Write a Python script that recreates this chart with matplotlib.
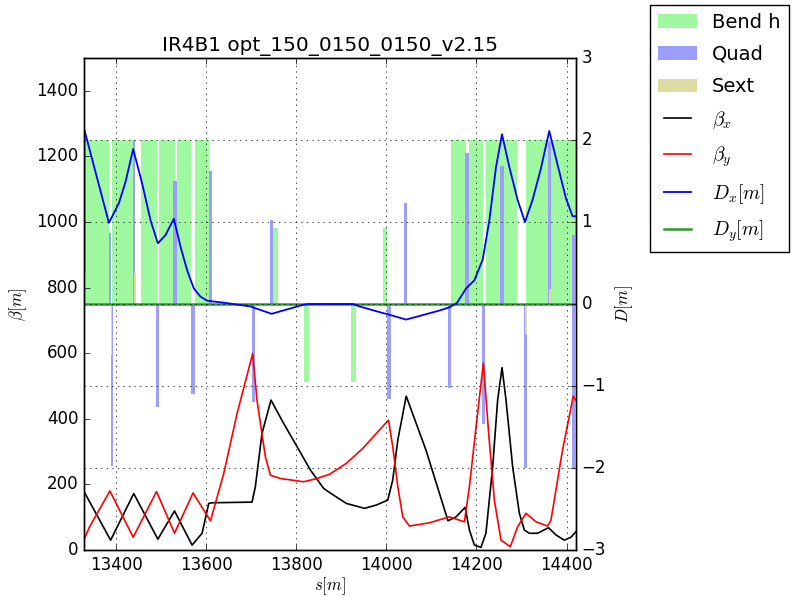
import numpy as np
import matplotlib
matplotlib.use('Agg')
import matplotlib.pyplot as plt

plt.style.use('classic')

# lattice elements: start s, length, bar height (right axis units)
bend_s = [13320, 13390, 13456, 13495, 13534, 13575, 13747, 13817, 13922, 13992,
          14144, 14183, 14221, 14256, 14311, 14361]
bend_l = [64, 48, 34, 35, 33, 31, 12, 12, 11, 10, 33, 31, 35, 35, 50, 60]
bend_h = [2, 2, 2, 2, 2, 2, 0.93, -0.95, -0.95, 0.93, 2, 2, 2, 2, 2, 2]

quad_s = [13326, 13384, 13387.5, 13437, 13489, 13526, 13567, 13605.5, 13702, 13740.5,
          14002, 14039.5, 14137, 14175.5, 14213, 14253, 14305.5, 14359, 14412.5, 14412.5]
quad_l = [7, 3.5, 6, 5, 7, 9, 7.5, 7, 6, 7, 8, 6, 6, 7, 7, 9, 7, 6, 6, 6]
quad_h = [2.1, 0.87, -1.98, 2.0, -1.26, 1.5, -1.10, 1.62, -1.19, 1.03,
          -1.16, 1.23, -1.02, 1.84, -1.46, 1.68, -2.0, 1.98, 0.84, -2.0]

sext_s = [13330, 13388.5, 13440, 14307, 14361]
sext_l = [3, 3, 4, 6, 4]
sext_h = [0.38, -0.62, 0.38, -0.36, 0.18]

# optics functions
bx_s = [13328.6, 13387.6, 13439, 13492.5, 13529.5, 13568.5, 13590.7, 13605.5, 13613, 13701.6,
        13709, 13723.7, 13743.7, 13771.8, 13801.6, 13831.2, 13860.5, 13874, 13911, 13951.5,
        13977.4, 14003, 14014, 14025.3, 14044, 14088, 14136.8, 14154.7, 14174.7, 14184.3,
        14195.4, 14210, 14221, 14236, 14247, 14256.8, 14265.6, 14280.3, 14295.2, 14306.2,
        14317.3, 14335.7, 14360, 14376.5, 14395, 14409.8, 14421]
bx_v = [178, 30, 172, 33, 119, 15, 51, 142, 144, 146,
        193, 355, 457, 386, 315, 244, 188, 175, 142, 127,
        137, 152, 213, 335, 469, 304, 89, 101, 130, 61,
        15, 8, 51, 254, 457, 556, 457, 254, 112, 61,
        51, 51, 68, 46, 30, 39, 56]

by_s = [13328.6, 13341, 13386, 13437.7, 13489.6, 13529.5, 13570.7, 13609.3, 13638.8, 13668.4,
        13703.1, 13712.6, 13731.3, 13742.4, 13764.6, 13816.2, 13845.8, 13874, 13911, 13947.7,
        13977.4, 14004.7, 14014.2, 14025.3, 14036.4, 14051.2, 14095.6, 14140, 14173.2, 14184.3,
        14199.1, 14215.3, 14227.1, 14239.7, 14254.5, 14275.2, 14291.4, 14309.9, 14332, 14357.8,
        14365.4, 14391, 14414.9, 14421]
by_v = [32, 71, 180, 39, 178, 51, 174, 89, 233, 416,
        599, 457, 284, 228, 218, 208, 218, 231, 264, 310,
        355, 396, 314, 193, 101, 73, 83, 101, 86, 193,
        375, 570, 355, 152, 30, 10, 71, 112, 86, 73,
        91, 304, 469, 456]

dx_s = [13328.6, 13383.8, 13406, 13420.8, 13437.7, 13457.6, 13476.3, 13492.5, 13509.5, 13528,
        13542.8, 13557.6, 13572.3, 13587.1, 13601.9, 13638.8, 13698, 13745, 13815, 13826,
        13926, 13940.4, 13992, 13999.5, 14043.8, 14117.7, 14140, 14156.3, 14177, 14195.4,
        14213.8, 14228.6, 14243.4, 14256.7, 14273, 14291.3, 14307.6, 14324.6, 14343, 14361.6,
        14380, 14398.6, 14413.4, 14421]
dx_v = [2.14, 0.99, 1.23, 1.49, 1.89, 1.47, 1.02, 0.74, 0.84, 1.04,
        0.70, 0.41, 0.19, 0.09, 0.04, 0.016, -0.03, -0.12, -0.01, 0.0,
        0.0, -0.03, -0.11, -0.12, -0.19, -0.08, -0.04, 0.01, 0.19, 0.29,
        0.54, 1.02, 1.67, 2.07, 1.67, 1.27, 1.00, 1.27, 1.65, 2.11,
        1.70, 1.29, 1.07, 1.07]
dy_v = np.zeros(len(dx_s))

fig = plt.figure(figsize=(7.96, 5.97), dpi=100, facecolor='white')
ax1 = fig.add_axes([84 / 796, 47 / 597, 492 / 796, 492 / 597])
ax2 = ax1.twinx()

# elements and dispersion on the right axis
hb = ax2.bar(bend_s, bend_h, width=bend_l, align='edge', color='#a0f8a0',
             edgecolor='none', linewidth=0, label='Bend h')
hq = ax2.bar(quad_s, quad_h, width=quad_l, align='edge', color='#9d9dfa',
             edgecolor='none', linewidth=0, label='Quad')
hs = ax2.bar(sext_s, sext_h, width=sext_l, align='edge', color='#dcdca0',
             edgecolor='none', linewidth=0, label='Sext')
ldx, = ax2.plot(dx_s, dx_v, color='b', lw=1.3, label='$D_x[m]$')
ldy, = ax2.plot(dx_s, dy_v, color='#2e9a2e', lw=1.8, label='$D_y[m]$')
ldx.set_zorder(2.6)
ax2.set_ylim(-3, 3)
ax2.set_ylabel('$D[m]$')
ax2.yaxis.grid(True)

# beta functions on the left axis, drawn above the elements
lbx, = ax1.plot(bx_s, bx_v, color='k', lw=1.2, label=r'$\beta_x$')
lby, = ax1.plot(by_s, by_v, color='r', lw=1.2, label=r'$\beta_y$')
ax1.set_zorder(ax2.get_zorder() + 1)
ax1.patch.set_visible(False)
ax1.xaxis.grid(True)
ax1.set_xlim(13328.5, 14421)
ax1.set_ylim(0, 1500)
ax1.set_xticks(np.arange(13400, 14401, 200))
ax1.set_yticks(np.arange(0, 1401, 200))
ax1.set_xlabel('$s[m]$', labelpad=1)
ax1.set_ylabel(r'$\beta[m]$')
ax1.set_title('IR4B1 opt_150_0150_0150_v2.15')

handles = [hb, hq, hs, lbx, lby, ldx, ldy]
labels = [h.get_label() for h in handles]
fig.legend(handles, labels, loc='upper left', bbox_to_anchor=(650 / 796, 1 - 5 / 597),
           borderaxespad=0, fontsize=14, labelspacing=0.68)

fig.savefig('out.png', dpi=100, facecolor='white')
